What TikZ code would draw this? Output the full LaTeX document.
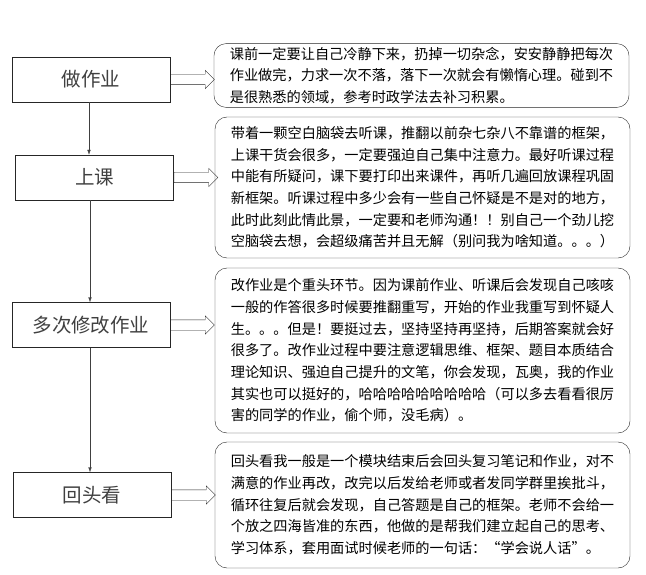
\documentclass[tikz,border=0pt]{standalone}
\usepackage{fontspec}
\newfontfamily\cjk{Noto Sans CJK SC}
\usetikzlibrary{arrows.meta, positioning, shapes.arrows}

\begin{document}
\begin{tikzpicture}[
    x=1pt, y=-1pt,
    every node/.style={font=\cjk, align=left},
    stage/.style ={draw=black!85, thin, rectangle, minimum width=158pt, minimum height=45pt,
                   font=\cjk\fontsize{19.5pt}{22pt}\selectfont, text=black!75},
    note/.style  ={draw=black!85, thin, rectangle, rounded corners=12pt, minimum width=415pt,
                   font=\cjk\fontsize{14.2pt}{21.7pt}\selectfont},
    blk/.style   ={draw=black!85, thin, single arrow, single arrow head extend=4pt,
                   inner xsep=0pt, inner ysep=5pt, minimum height=44pt, anchor=tail},
    arr/.style   ={-{Latex[length=5pt, width=3.5pt]}, black!75, thin}
]
\useasboundingbox (0,0) rectangle (646,575);

% left column
\node[stage] (s1) at (91,  79.5) {做作业};
\node[stage] (s2) at (94.5,177.5) {上课};
\node[stage] (s3) at (91, 325) {多次修改作业};
\node[stage] (s4) at (92, 495) {回头看};

% right column
\node[note] (n1) at (421.5,75.5) {课前一定要让自己冷静下来，扔掉一切杂念，安安静静把每次\\
作业做完，力求一次不落，落下一次就会有懒惰心理。碰到不\\
是很熟悉的领域，参考时政学法去补习积累。};
\node[note, minimum height=141pt] (n2) at (422.5,187.5) {带着一颗空白脑袋去听课，推翻以前杂七杂八不靠谱的框架，\\
上课干货会很多，一定要强迫自己集中注意力。最好听课过程\\
中能有所疑问，课下要打印出来课件，再听几遍回放课程巩固\\
新框架。听课过程中多少会有一些自己怀疑是不是对的地方，\\
此时此刻此情此景，一定要和老师沟通！！别自己一个劲儿挖\\
空脑袋去想，会超级痛苦并且无解（别问我为啥知道。。。）};
\node[note, minimum height=165pt] (n3) at (422.5,350.5) {改作业是个重头环节。因为课前作业、听课后会发现自己咳咳\\
一般的作答很多时候要推翻重写，开始的作业我重写到怀疑人\\
生。。。但是！要挺过去，坚持坚持再坚持，后期答案就会好\\
很多了。改作业过程中要注意逻辑思维、框架、题目本质结合\\
理论知识、强迫自己提升的文笔，你会发现，瓦奥，我的作业\\
其实也可以挺好的，哈哈哈哈哈哈哈哈哈（可以多去看看很厉\\
害的同学的作业，偷个师，没毛病）。};
\node[note, minimum height=126pt] (n4) at (422.5,505) {回头看我一般是一个模块结束后会回头复习笔记和作业，对不\\
满意的作业再改，改完以后发给老师或者发同学群里挨批斗，\\
循环往复后就会发现，自己答题是自己的框架。老师不会给一\\
个放之四海皆准的东西，他做的是帮我们建立起自己的思考、\\
学习体系，套用面试时候老师的一句话：“学会说人话”。};

% block arrows
\node[blk] (b1) at (s1.east) {};
\node[blk] (b2) at (s2.east) {};
\node[blk] (b3) at (s3.east) {};
\node[blk] (b4) at (s4.east) {};

% flow
\draw[arr] (s1.south -| 89,0) -- (s2.north -| 89,0);
\draw[arr] (s2.south -| 90,0) -- (s3.north -| 90,0);
\draw[arr] (s3.south -| 90,0) -- (s4.north -| 90,0);
\end{tikzpicture}
\end{document}
